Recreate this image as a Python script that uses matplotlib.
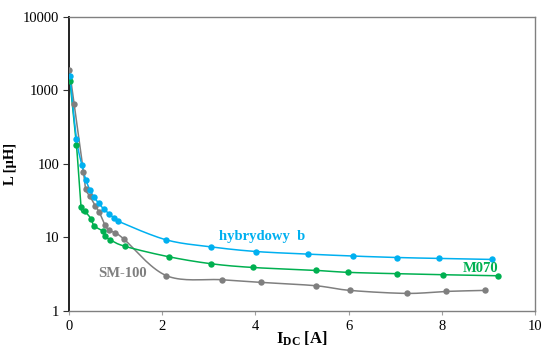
import numpy as np
import matplotlib
matplotlib.use("Agg")
import matplotlib.pyplot as plt

# Data
hyb_x = [0.02, 0.16, 0.28, 0.36, 0.45, 0.54, 0.64, 0.75, 0.86, 0.96, 1.05, 2.08, 3.05, 4.01, 5.13, 6.10, 7.04, 7.95, 9.07]
hyb_y = [1550, 219, 95, 61, 44, 35, 29, 24, 21, 18.4, 16.6, 9.25, 7.4, 6.4, 5.9, 5.55, 5.3, 5.15, 4.99]

m070_x = [0.02, 0.16, 0.26, 0.34, 0.47, 0.54, 0.73, 0.78, 0.88, 1.21, 2.14, 3.05, 3.94, 5.29, 5.98, 7.04, 8.03, 9.21]
m070_y = [1350, 181, 25.8, 22.7, 18, 14.3, 12.1, 10.5, 9.25, 7.5, 5.43, 4.36, 3.88, 3.54, 3.33, 3.19, 3.09, 2.99]

sm_x = [0.01, 0.11, 0.31, 0.36, 0.45, 0.56, 0.65, 0.77, 0.86, 0.98, 1.17, 2.09, 3.28, 4.12, 5.29, 6.03, 7.25, 8.09, 8.92]
sm_y = [1900, 650, 78, 45, 36, 27, 22, 14.8, 12.4, 11.6, 9.55, 3.0, 2.64, 2.43, 2.19, 1.89, 1.72, 1.83, 1.89]

xticks = [0, 2, 4, 6, 8, 10]
yticks = [1, 10, 100, 1000, 10000]

BLUE = "#00B0F0"
GREEN = "#00B050"
GRAY = "#7F7F7F"

plt.rcParams['font.family'] = ['Liberation Serif', 'DejaVu Serif']
plt.rcParams['mathtext.fontset'] = 'custom'
plt.rcParams['mathtext.rm'] = 'Liberation Serif'
plt.rcParams['mathtext.bf'] = 'Liberation Serif:bold'
plt.rcParams['mathtext.it'] = 'Liberation Serif:italic'


def smooth(x, y, n=20):
    """Catmull-Rom (Excel-like) smoothing in (x, log10 y) space."""
    px = np.asarray(x, float)
    py = np.log10(np.asarray(y, float))
    P = np.column_stack([px, py])
    P = np.vstack([P[0], P, P[-1]])
    out = []
    for i in range(1, len(P) - 2):
        p0, p1, p2, p3 = P[i - 1], P[i], P[i + 1], P[i + 2]
        c1 = p1 + (p2 - p0) / 6.0
        c2 = p2 - (p3 - p1) / 6.0
        t = np.linspace(0, 1, n)[:, None]
        seg = ((1 - t) ** 3) * p1 + 3 * ((1 - t) ** 2) * t * c1 + 3 * (1 - t) * t ** 2 * c2 + t ** 3 * p2
        out.append(seg if i == 1 else seg[1:])
    out = np.vstack(out)
    return out[:, 0], 10 ** out[:, 1]


fig = plt.figure(figsize=(5.44, 3.47), dpi=100)
ax = fig.add_axes([69 / 544, 1 - 310.7 / 347, (535 - 69) / 544, (310.7 - 17) / 347])

for xs, ys, c in [(sm_x, sm_y, GRAY), (m070_x, m070_y, GREEN), (hyb_x, hyb_y, BLUE)]:
    sx, sy = smooth(xs, ys)
    ax.plot(sx, sy, color=c, lw=1.1, zorder=2)
    ax.plot(xs, ys, 'o', color=c, ms=4.6, mec='none', zorder=3)

ax.set_yscale('log')
ax.set_xlim(0, 10)
ax.set_ylim(1, 10000)
ax.set_xticks(xticks)
ax.set_xticklabels([str(v) for v in xticks])
ax.set_yticks(yticks)
ax.set_yticklabels([str(v) for v in yticks])
ax.yaxis.set_minor_locator(matplotlib.ticker.NullLocator())

for s in ['top', 'right', 'bottom']:
    ax.spines[s].set_color('#808080')
    ax.spines[s].set_linewidth(1.0)
ax.spines['left'].set_color('#222222')
ax.spines['left'].set_linewidth(1.4)

ax.tick_params(axis='x', direction='out', length=3, width=0.8, color='#A0A0A0',
               labelsize=10.5, pad=4)
ax.tick_params(axis='y', direction='out', length=4, width=0.8, color='#333333',
               labelsize=10.5, pad=3)

ax.set_xlabel(r'$\mathbf{I_{DC}}$ [A]', fontsize=12, fontweight='bold', labelpad=-3)
ax.set_ylabel('L [µH]', fontsize=10.5, fontweight='bold', labelpad=4)

ax.text(4.14, 10.1, 'hybrydowy  b', color=BLUE, fontsize=10.5, fontweight='bold',
        ha='center', va='center')
ax.text(1.14, 3.26, 'SM-100', color=GRAY, fontsize=10.5, fontweight='bold',
        ha='center', va='center')
ax.text(8.84, 3.8, 'M070', color=GREEN, fontsize=10.5, fontweight='bold',
        ha='center', va='center')

fig.savefig('out.png', dpi=100)
